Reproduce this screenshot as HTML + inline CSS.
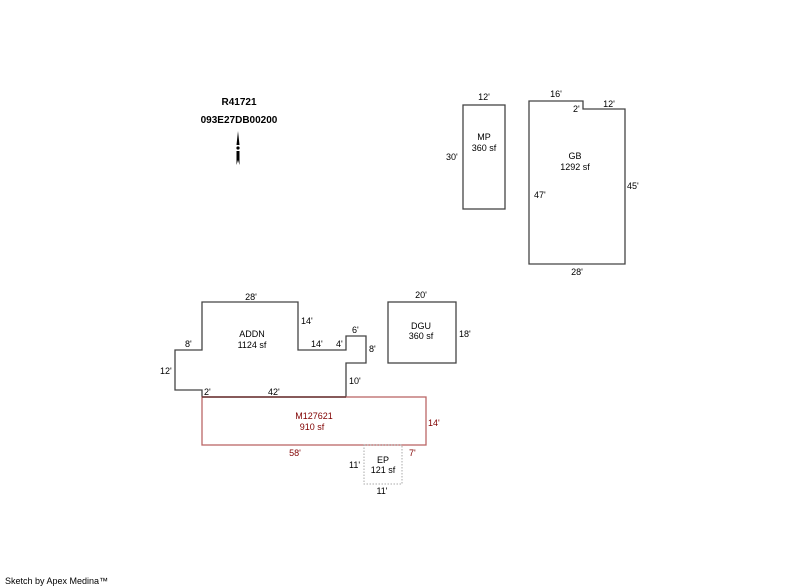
<html><body style="margin:0;background:#fff;width:800px;height:587px;overflow:hidden;position:relative;font-family:'Liberation Sans',sans-serif">
<svg width="800" height="587" style="position:absolute;left:0;top:0" font-family="Liberation Sans, sans-serif" font-size="9">
<g fill="none" stroke="#444" stroke-width="1.3">
<polyline points="202,397 202,390 175,390 175,350 202,350 202,302 298,302 298,350 346,350 346,336 366,336 366,363 346,363 346,397"/>
<rect x="388" y="302" width="68" height="61"/>
<rect x="463" y="105" width="42" height="104"/>
<polygon points="529,101 583,101 583,109 625,109 625,264 529,264"/>
</g>
<rect x="202" y="397" width="224" height="48" fill="none" stroke="#b66" stroke-width="1.3"/>
<line x1="202" y1="397" x2="346" y2="397" stroke="#633" stroke-width="1.5"/>
<rect x="364" y="445" width="38" height="39" fill="none" stroke="#aaa" stroke-dasharray="1.5,1.5"/>
<g fill="#000">
<text x="239" y="105" font-weight="bold" font-size="10" text-anchor="middle">R41721</text>
<text x="239" y="123" font-weight="bold" font-size="10" text-anchor="middle">093E27DB00200</text>
<text x="251" y="300" text-anchor="middle">28'</text>
<text x="301" y="324">14'</text>
<text x="252" y="337" text-anchor="middle">ADDN</text>
<text x="252" y="348" text-anchor="middle">1124 sf</text>
<text x="185" y="347">8'</text>
<text x="160" y="374">12'</text>
<text x="311" y="347">14'</text>
<text x="336" y="347">4'</text>
<text x="352" y="333">6'</text>
<text x="369" y="352">8'</text>
<text x="349" y="384">10'</text>
<text x="204" y="395">2'</text>
<text x="268" y="395">42'</text>
<text x="421" y="298" text-anchor="middle">20'</text>
<text x="421" y="329" text-anchor="middle">DGU</text>
<text x="421" y="339" text-anchor="middle">360 sf</text>
<text x="459" y="337">18'</text>
<text x="484" y="100" text-anchor="middle">12'</text>
<text x="484" y="140" text-anchor="middle">MP</text>
<text x="484" y="151" text-anchor="middle">360 sf</text>
<text x="446" y="160">30'</text>
<text x="556" y="97" text-anchor="middle">16'</text>
<text x="573" y="112">2'</text>
<text x="609" y="107" text-anchor="middle">12'</text>
<text x="575" y="159" text-anchor="middle">GB</text>
<text x="575" y="170" text-anchor="middle">1292 sf</text>
<text x="534" y="198">47'</text>
<text x="627" y="189">45'</text>
<text x="577" y="275" text-anchor="middle">28'</text>
<text x="383" y="463" text-anchor="middle">EP</text>
<text x="383" y="473" text-anchor="middle">121 sf</text>
<text x="349" y="468">11'</text>
<text x="382" y="494" text-anchor="middle">11'</text>
<text x="5" y="584">Sketch by Apex Medina™</text>
</g>
<g fill="#800000">
<text x="314" y="419" text-anchor="middle">M127621</text>
<text x="312" y="430" text-anchor="middle">910 sf</text>
<text x="428" y="426">14'</text>
<text x="295" y="456" text-anchor="middle">58'</text>
<text x="409" y="456">7'</text>
</g>
<g fill="#000">
<polygon points="238,131 236.5,145 239.5,145"/>
<circle cx="238" cy="148" r="1.6"/>
<polygon points="236.5,151 239.5,151 239.5,165 238,160 236.5,165"/>
</g>
</svg>
</body></html>
